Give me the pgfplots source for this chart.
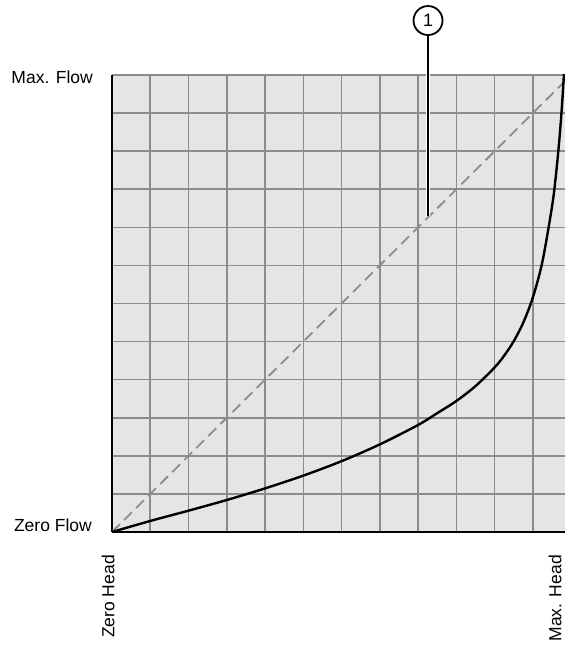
\documentclass[border=0pt]{standalone}
\usepackage{fontspec}
\setmainfont{Liberation Sans}
\usepackage{pgfplots}
\pgfplotsset{compat=1.18}
\definecolor{bgc}{HTML}{E5E5E5}
\definecolor{gridc}{HTML}{8C8C8C}
\definecolor{dashc}{HTML}{8C8C8C}
\begin{document}
\begin{tikzpicture}[x=1pt,y=1pt]
\useasboundingbox (0,0) rectangle (565,651);
\clip (0,0) rectangle (565,651);
\begin{axis}[
  at={(112pt,119pt)}, anchor=south west,
  scale only axis, width=453pt, height=457pt,
  xmin=0, xmax=11.84, ymin=0, ymax=12,
  xtick={1,...,11}, ytick={1,...,12},
  xticklabels={}, yticklabels={},
  major tick length=0pt,
  grid=major,
  major grid style={gridc, line width=1.6pt},
  axis x line=bottom, axis y line=left,
  axis line style={-, black, line width=2.5pt},
  axis background/.style={fill=bgc},
]
\addplot[dashc, line width=1.8pt, dash pattern=on 11pt off 6pt] coordinates {(0,0) (12,12)};
\addplot[black, line width=2.4pt, smooth] coordinates {
  (0,0) (1,0.29) (2,0.56) (3,0.84) (4,1.145) (5,1.48) (6,1.86) (7,2.3)
  (8,2.81) (8.5,3.12) (9,3.44) (9.5,3.83) (10,4.32) (10.25,4.63)
  (10.5,5.01) (10.75,5.5) (11,6.16) (11.25,7.1) (11.5,8.54) (11.6,9.34)
  (11.7,10.39) (11.77,11.33) (11.84,12.5)
};
\coordinate (lead) at (axis cs:8.26,8.3);
\coordinate (circ) at (axis cs:8.26,13.43);
\end{axis}
\draw[white, line width=4.5pt] (lead) -- ([yshift=-14.5pt]circ);
\draw[black, line width=2.5pt] (lead) -- ([yshift=-14.5pt]circ);
\node[circle, draw, line width=1.8pt, minimum size=29pt, inner sep=0pt, font=\fontsize{18}{20}\selectfont] at (circ) {1};
\node[anchor=east, inner sep=0pt, font=\fontsize{17.5}{20}\selectfont] at (93,574) {Max. Flow};
\node[anchor=east, inner sep=0pt, font=\fontsize{17.5}{20}\selectfont] at (92,126) {Zero Flow};
\node[rotate=90, anchor=east, inner sep=0pt, font=\fontsize{17.5}{20}\selectfont] at (108,96) {Zero Head};
\node[rotate=90, anchor=east, inner sep=0pt, font=\fontsize{17.5}{20}\selectfont] at (555,96) {Max. Head};
\end{tikzpicture}
\end{document}
